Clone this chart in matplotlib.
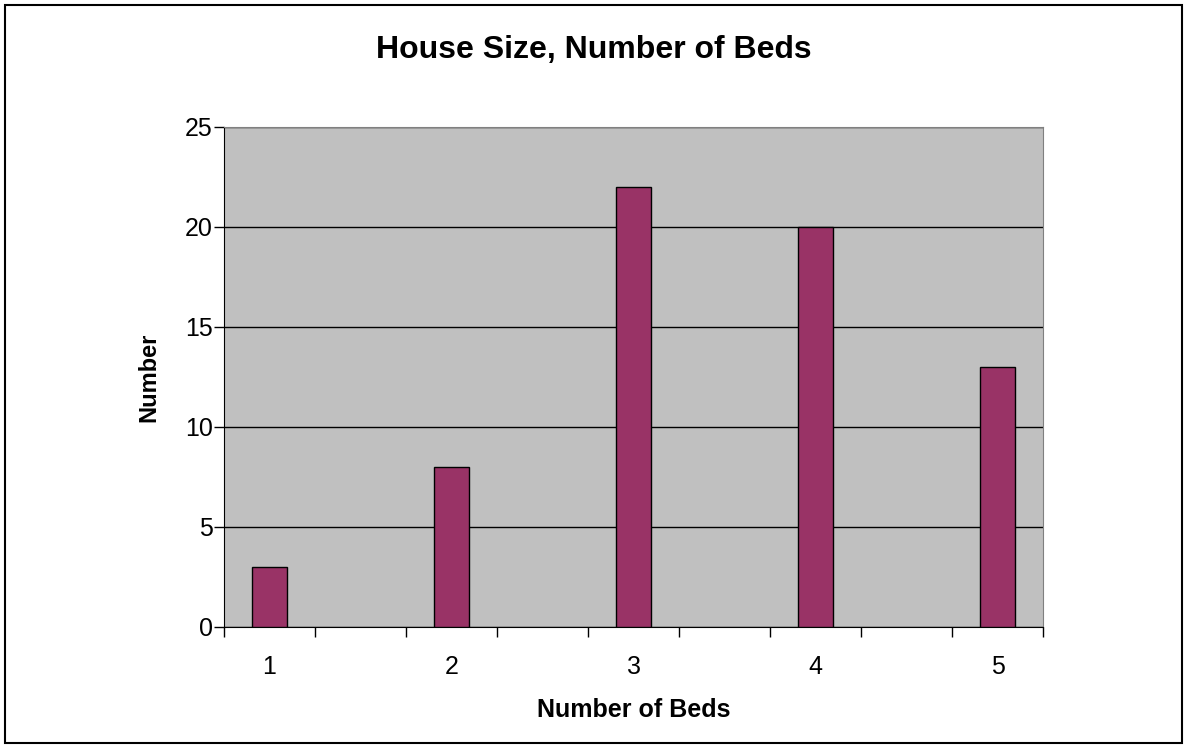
import numpy as np
import matplotlib.pyplot as plt
from matplotlib.patches import Rectangle

plt.rcParams['font.family'] = ['Liberation Sans', 'DejaVu Sans']

beds = ["1", "2", "3", "4", "5"]
counts = [3, 8, 22, 20, 13]

# categories sit on every other slot (9 slots in total, like the original sheet)
pos = np.arange(len(beds)) * 2 + 0.5

fig = plt.figure(figsize=(11.87, 7.48), dpi=100)
ax = fig.add_axes([224 / 1187, 1 - 627 / 748, (1043 - 224) / 1187, 500 / 748])

ax.set_facecolor("#C0C0C0")
ax.bar(pos, counts, width=0.39, color="#993366", edgecolor="black", linewidth=1, zorder=3)

ax.set_xlim(0, 9)
ax.set_ylim(0, 25)
ax.set_yticks([0, 5, 10, 15, 20, 25])
ax.set_xticks(np.arange(0, 10), minor=True)
ax.set_xticks(pos)
ax.set_xticklabels(beds)
ax.tick_params(axis="x", which="major", length=0, labelsize=18, pad=20)
ax.tick_params(axis="x", which="minor", length=7, width=1, direction="out")
ax.tick_params(axis="y", length=7, width=1, direction="out", labelsize=18, pad=1)

ax.yaxis.grid(True, color="black", linewidth=1, zorder=1)
ax.set_axisbelow(True)

ax.spines["top"].set_color("#808080")
ax.spines["right"].set_color("#808080")
ax.spines["left"].set_color("black")
ax.spines["bottom"].set_color("black")

# title is centred on the whole chart, not the plot area
fig.text(0.5, 1 - 50 / 748, "House Size, Number of Beds", fontsize=23,
         fontweight="bold", ha="center", va="center")
ax.set_xlabel("Number of Beds", fontsize=18, fontweight="bold", labelpad=14)
ax.set_ylabel("Number", fontsize=17, fontweight="bold", labelpad=18)

fig.patches.append(Rectangle((5 / 1187, 5 / 748), 1177 / 1187, 738 / 748,
                             transform=fig.transFigure, fill=False,
                             edgecolor="black", linewidth=1.5))

fig.savefig("out.png", dpi=100)
